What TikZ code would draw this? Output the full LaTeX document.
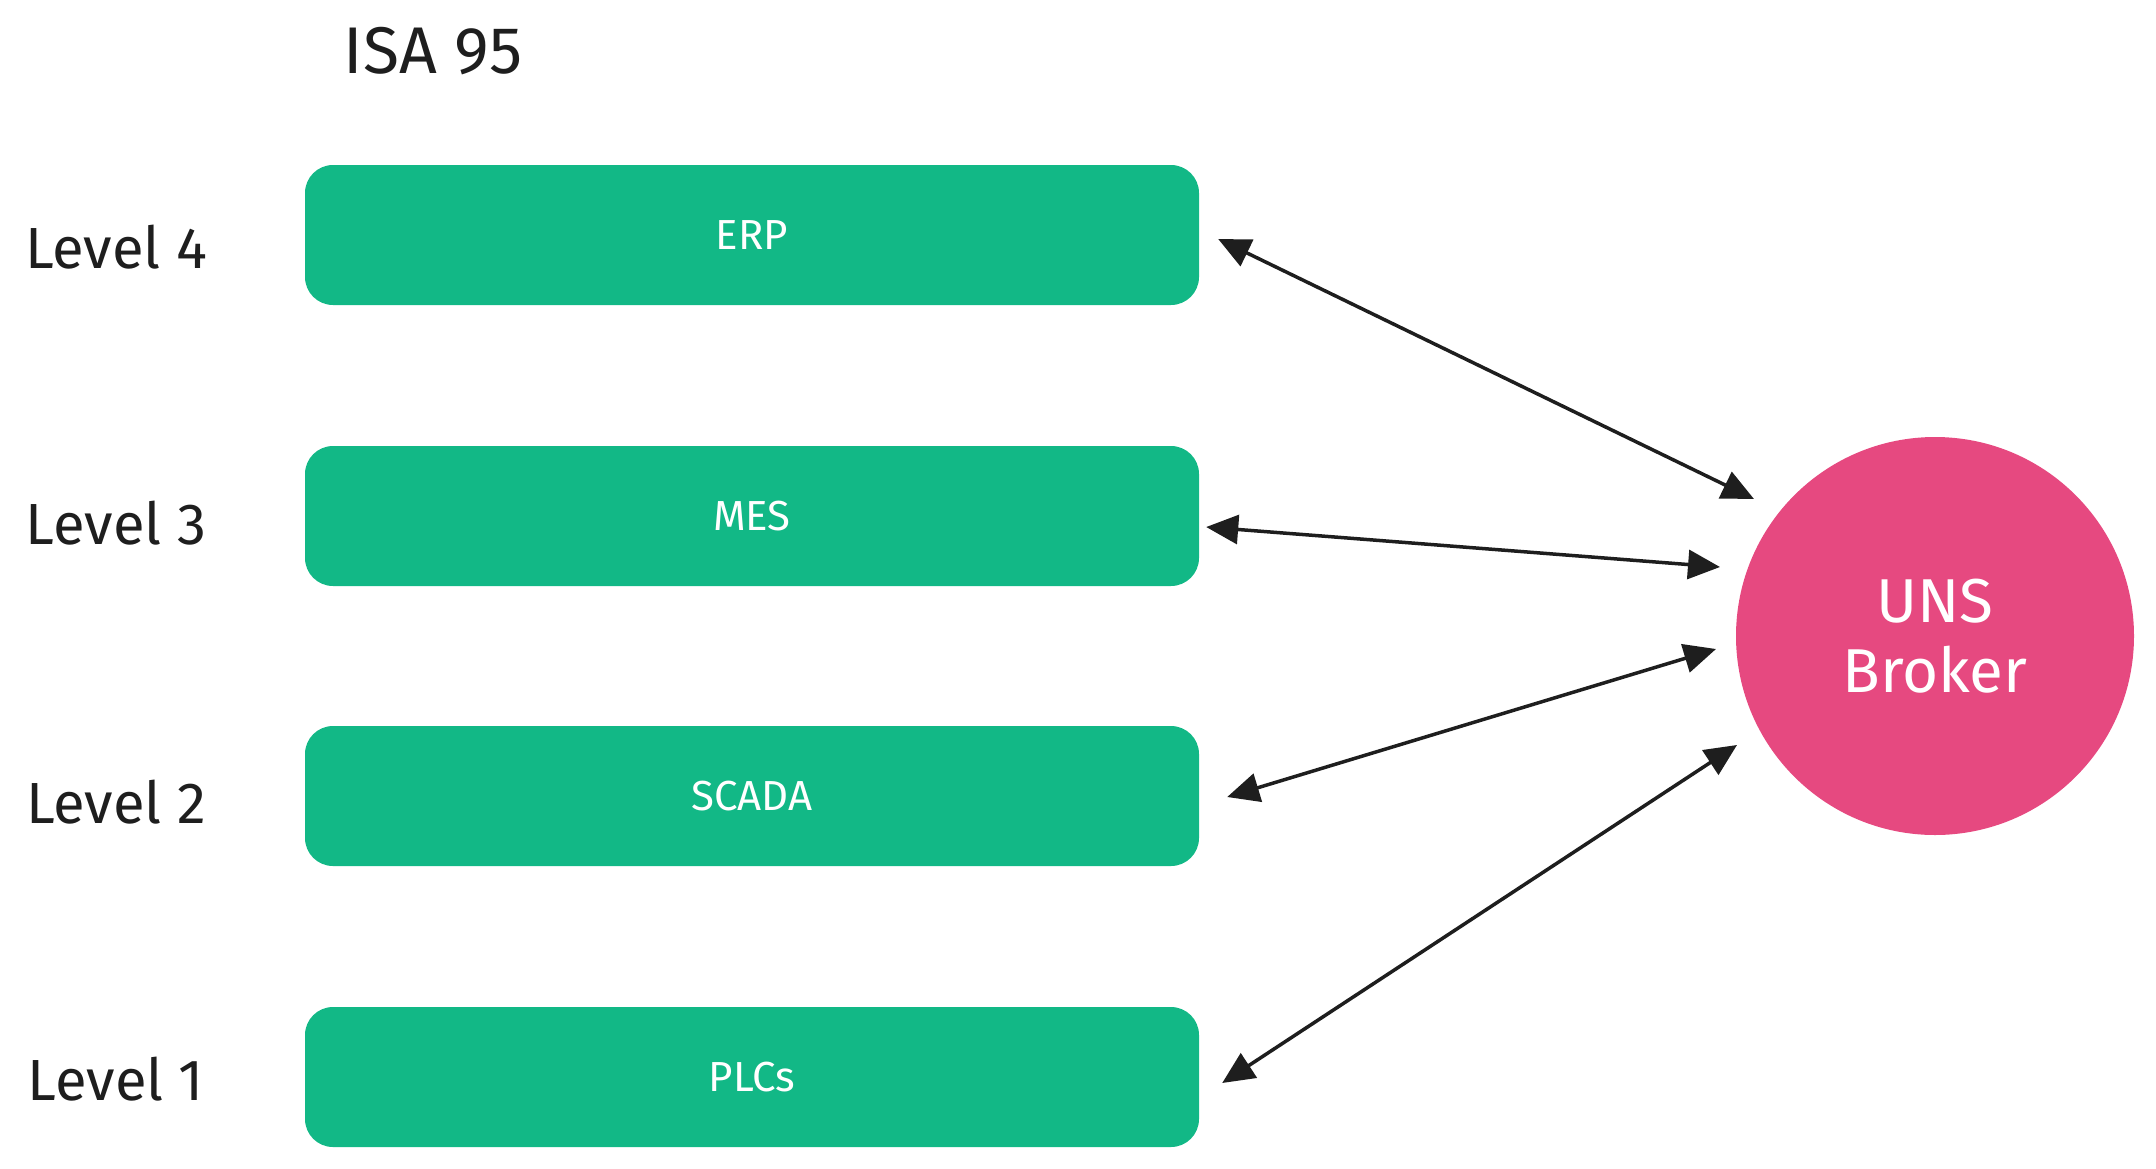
\documentclass[tikz,border=0pt]{standalone}
\usepackage{fontspec}
\setmainfont{Fira Sans}
\usetikzlibrary{arrows.meta}
\definecolor{boxgreen}{HTML}{12B886}
\definecolor{brokerpink}{HTML}{E64980}
\definecolor{ink}{HTML}{1E1E1E}
\tikzset{
  levelbox/.style={fill=boxgreen, draw=none, rounded corners=28pt, minimum width=894pt, minimum height=140pt, inner sep=0pt, text=white, font=\fontsize{42}{50}\selectfont},
  levellabel/.style={text=ink, font=\fontsize{58}{66}\selectfont, inner sep=0pt},
  broker/.style={circle, fill=brokerpink, draw=none, minimum size=398pt, inner sep=0pt, text=white, align=center, font=\fontsize{62}{70}\selectfont},
  link/.style={draw=ink, line width=3.5pt, {Triangle[length=32pt,width=29pt]}-{Triangle[length=32pt,width=29pt]}}
}
\begin{document}
\begin{tikzpicture}[x=1pt, y=-1pt]
\useasboundingbox (0,0) rectangle (2156,1168);
\node[levellabel, font=\fontsize{66}{72}\selectfont] (isa) at (433,51) {ISA 95};
\node[levellabel] (l4) at (116,247) {Level 4};
\node[levellabel] (l3) at (116,523) {Level 3};
\node[levellabel] (l2) at (116,802) {Level 2};
\node[levellabel] (l1) at (116,1079) {Level 1};
\node[levelbox] (erp) at (752,235) {ERP};
\node[levelbox] (mes) at (752,516) {MES};
\node[levelbox] (scada) at (752,796) {SCADA};
\node[levelbox] (plc) at (752,1077) {PLCs};
\node[broker] (uns) at (1935,636) {UNS\\Broker};
\draw[link] ([shift={(19,4)}]erp.east) -- ([shift={(-181,-137)}]uns.center);
\draw[link] ([shift={(7,11)}]mes.east) -- ([shift={(-215,-69)}]uns.center);
\draw[link] ([shift={(28,1)}]scada.east) -- ([shift={(-219,13)}]uns.center);
\draw[link] ([shift={(23,6)}]plc.east) -- ([shift={(-198,109)}]uns.center);
\end{tikzpicture}
\end{document}
